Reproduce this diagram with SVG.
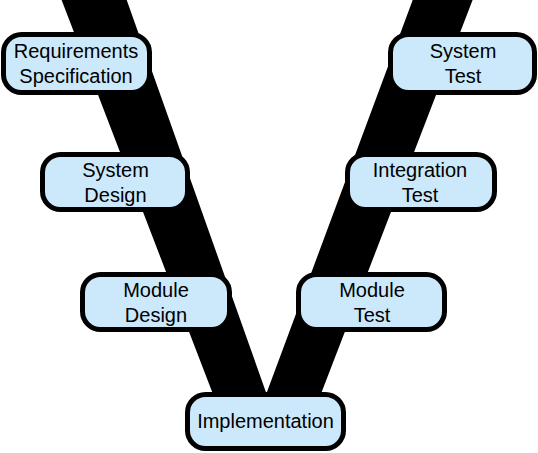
<svg xmlns="http://www.w3.org/2000/svg" width="538" height="453" viewBox="0 0 538 453">
<style>
.box{fill:#cce8fb;stroke:#000;stroke-width:5}
.lbl{font-family:"Liberation Sans",Arial,sans-serif;font-size:20px;fill:#000;text-anchor:middle}
</style>
<rect width="538" height="453" fill="#fff"/>
<g id="connectors">
<path d="M61.6,0 L126.7,0 L266.4,393.4 L412.7,0 L472.6,0 L303.2,440 L230.6,440 Z" fill="#000"/>
</g>
<g id="requirements">
<rect class="box" x="3.5" y="34.5" width="146" height="58" rx="18"/>
<text class="lbl" x="76" y="58">Requirements</text>
<text class="lbl" x="76" y="83">Specification</text>
</g>
<g id="system-test">
<rect class="box" x="390.5" y="34.5" width="144" height="58" rx="18"/>
<text class="lbl" x="463" y="58">System</text>
<text class="lbl" x="463" y="83">Test</text>
</g>
<g id="system-design">
<rect class="box" x="42.5" y="154.5" width="145" height="55" rx="18"/>
<text class="lbl" x="115.5" y="177">System</text>
<text class="lbl" x="115.5" y="202">Design</text>
</g>
<g id="integration-test">
<rect class="box" x="347.5" y="154.5" width="147" height="55" rx="18"/>
<text class="lbl" x="420" y="177">Integration</text>
<text class="lbl" x="420" y="202">Test</text>
</g>
<g id="module-design">
<rect class="box" x="82.5" y="274.5" width="147" height="55" rx="18"/>
<text class="lbl" x="156" y="297">Module</text>
<text class="lbl" x="156" y="322">Design</text>
</g>
<g id="module-test">
<rect class="box" x="298.5" y="274.5" width="146" height="55" rx="18"/>
<text class="lbl" x="372" y="297">Module</text>
<text class="lbl" x="372" y="322">Test</text>
</g>
<g id="implementation">
<rect class="box" x="187.5" y="394.5" width="156" height="54" rx="18"/>
<text class="lbl" x="265.5" y="428">Implementation</text>
</g>
</svg>
